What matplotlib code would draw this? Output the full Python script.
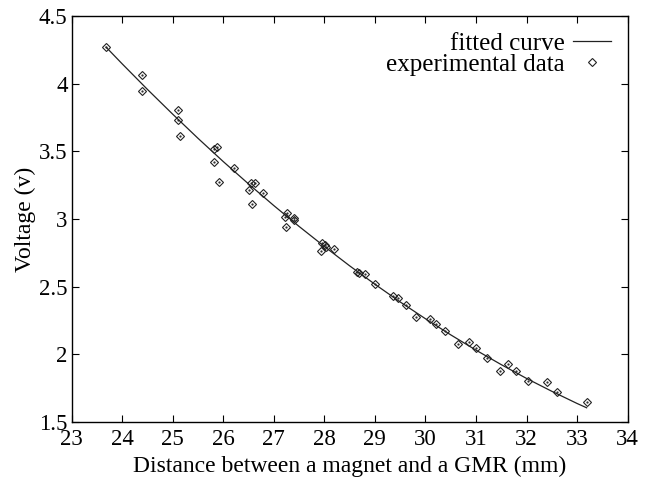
import matplotlib
matplotlib.use("Agg")
import matplotlib.pyplot as plt
from matplotlib.ticker import FormatStrFormatter

plt.rcParams['font.family'] = ['Liberation Serif', 'DejaVu Serif']

# measured points (distance in mm, voltage in V)
dist = [23.68, 24.39, 24.40, 25.11, 25.10, 25.15, 25.87, 25.82, 25.82, 25.92,
        26.21, 26.54, 26.63, 26.50, 26.78, 26.56, 27.27, 27.22, 27.40, 27.40,
        27.24, 27.95, 28.02, 28.04, 27.93, 28.19, 28.64, 28.68, 28.81, 29.00,
        29.35, 29.45, 29.61, 29.81, 30.10, 30.21, 30.39, 30.64, 30.86, 31.00,
        31.21, 31.63, 31.48, 31.79, 32.03, 32.41, 32.61, 33.19]
volt = [4.27, 4.064, 3.944, 3.803, 3.731, 3.613, 3.534, 3.517, 3.421, 3.273,
        3.377, 3.263, 3.263, 3.214, 3.190, 3.113, 3.042, 3.012, 3.007, 2.992,
        2.938, 2.820, 2.805, 2.795, 2.765, 2.776, 2.606, 2.603, 2.593, 2.517,
        2.428, 2.414, 2.366, 2.278, 2.258, 2.221, 2.170, 2.076, 2.093, 2.046,
        1.975, 1.930, 1.874, 1.874, 1.805, 1.793, 1.723, 1.645]

# fitted curve
fit_x = [23.68, 24.0, 24.5, 25.0, 25.5, 26.0, 26.5, 27.0, 27.5, 28.0, 28.5,
         29.0, 29.5, 30.0, 30.5, 31.0, 31.5, 32.0, 32.5, 33.0, 33.19]
fit_y = [4.270, 4.146, 3.957, 3.774, 3.596, 3.424, 3.259, 3.099, 2.945, 2.797,
         2.654, 2.518, 2.387, 2.263, 2.144, 2.031, 1.924, 1.822, 1.727, 1.637,
         1.605]

fig = plt.figure(figsize=(6.62, 4.83), dpi=100)
ax = fig.add_axes([0.1083, 0.1263, 0.948 - 0.1083, 0.9669 - 0.1263])

ax.plot(fit_x, fit_y, color='#222222', lw=0.9, label='fitted curve')
ax.plot(dist, volt, linestyle='none', marker='D', markersize=4.2,
        markerfacecolor='none', markeredgecolor='#222222', markeredgewidth=0.8,
        label='experimental data')
ax.plot(dist, volt, linestyle='none', marker='.', markersize=1.2, color='#222222')

ax.set_xlim(23, 34)
ax.set_ylim(1.5, 4.5)
ax.set_xticks(range(23, 35))
ax.set_yticks([1.5, 2, 2.5, 3, 3.5, 4, 4.5])
ax.yaxis.set_major_formatter(FormatStrFormatter('%g'))
ax.tick_params(direction='in', length=5, width=0.8, top=True, right=True,
               labelsize=16.5)
ax.tick_params(axis='x', pad=5)
ax.tick_params(axis='y', pad=3)
for s in ax.spines.values():
    s.set_linewidth(1.0)

ax.set_xlabel('Distance between a magnet and a GMR (mm)', fontsize=17, labelpad=4)
ax.set_ylabel('Voltage (v)', fontsize=17, labelpad=2)

ax.legend(loc='upper right', frameon=False, markerfirst=False, fontsize=18,
          handlelength=1.52, handletextpad=0.32, labelspacing=-0.05,
          borderaxespad=0.0, borderpad=0.4, bbox_to_anchor=(0.988, 0.984))

plt.savefig('out.png', dpi=100)
